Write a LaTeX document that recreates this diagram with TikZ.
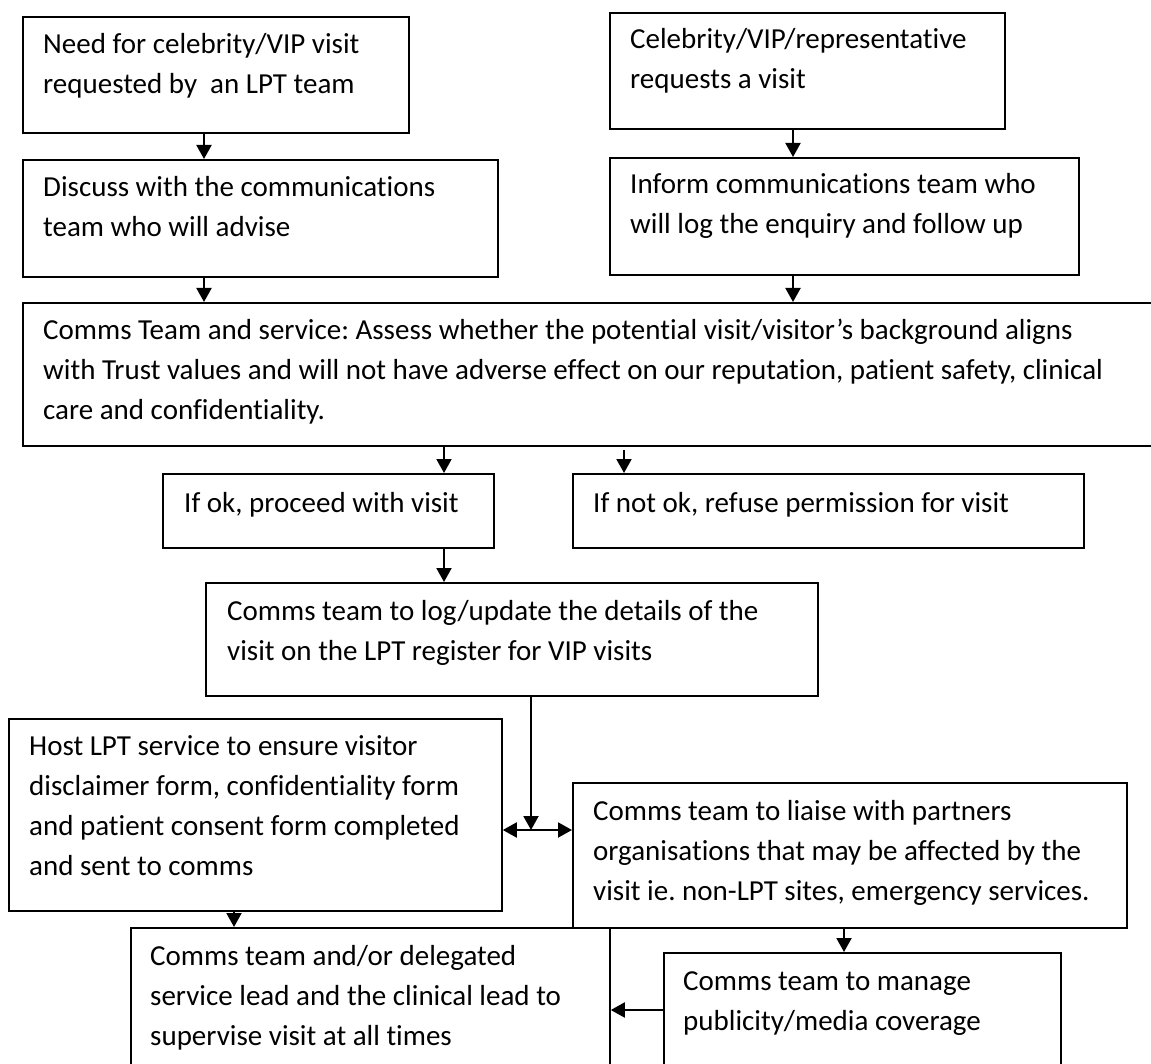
\documentclass[tikz,border=0pt]{standalone}
\usepackage{fontspec}
\setmainfont{Carlito}[Ligatures={NoCommon}]
\usetikzlibrary{arrows.meta}
\frenchspacing
\tikzset{
  box/.style={draw=black, line width=1.8pt, rectangle, inner sep=0pt, anchor=north west},
  txt/.style={inner sep=0pt, anchor=base west, font=\fontsize{29}{40}\selectfont},
  arr/.style={line width=2pt, -{Triangle[length=14pt,width=15pt]}},
  dblarr/.style={line width=2pt, {Triangle[length=14pt,width=15pt]}-{Triangle[length=14pt,width=15pt]}}
}
\newcommand{\lines}[1]{\begin{tabular}[t]{@{}l@{}}#1\end{tabular}}
\begin{document}
\begin{tikzpicture}[x=1pt,y=-1pt]
\useasboundingbox[fill=white] (0,0) rectangle (1151,1064);
% boxes
\node[box, minimum width=386pt, minimum height=116pt] (b1) at (22,16) {};
\node[box, minimum width=475pt, minimum height=117pt] (b2) at (22,159) {};
\node[box, minimum width=395pt, minimum height=116pt] (b3) at (609,12) {};
\node[box, minimum width=469pt, minimum height=117pt] (b4) at (609,157) {};
\node[box, minimum width=1143pt, minimum height=143pt] (b5) at (22,302) {};
\node[box, minimum width=331pt, minimum height=74pt] (b6) at (162,473) {};
\node[box, minimum width=511pt, minimum height=74pt] (b7) at (572,473) {};
\node[box, minimum width=612pt, minimum height=113pt] (b8) at (205,582) {};
\node[box, minimum width=493pt, minimum height=192pt] (b9) at (8,718) {};
\node[box, minimum width=554pt, minimum height=145pt] (b10) at (572,782) {};
\node[box, minimum width=479pt, minimum height=148pt] (b11) at (130,927) {};
\node[box, minimum width=397pt, minimum height=123pt] (b12) at (663,952) {};
% texts
\node[txt] (t1) at (43,54) {\lines{Need for celebrity/VIP visit\\requested by\ \ an LPT team}};
\node[txt] (t2) at (43,197) {\lines{Discuss with the communications\\team who will advise}};
\node[txt] (t3) at (630,49) {\lines{Celebrity/VIP/representative\\requests a visit}};
\node[txt] (t4) at (630,194) {\lines{Inform communications team who\\will log the enquiry and follow up}};
\node[txt] (t5) at (43,340) {\lines{Comms Team and service: Assess whether the potential visit/visitor’s background aligns\\with Trust values and will not have adverse effect on our reputation, patient safety, clinical\\care and confidentiality.}};
\node[txt] (t6) at (184,512) {If ok, proceed with visit};
\node[txt] (t7) at (593,512) {If not ok, refuse permission for visit};
\node[txt] (t8) at (227,620) {\lines{Comms team to log/update the details of the\\visit on the LPT register for VIP visits}};
\node[txt] (t9) at (29,755) {\lines{Host LPT service to ensure visitor\\disclaimer form, confidentiality form\\and patient consent form completed\\and sent to comms}};
\node[txt] (t10) at (593,820) {\lines{Comms team to liaise with partners\\organisations that may be affected by the\\visit ie. non-LPT sites, emergency services.}};
\node[txt] (t11) at (150,965) {\lines{Comms team and/or delegated\\service lead and the clinical lead to\\supervise visit at all times}};
\node[txt] (t12) at (683,990) {\lines{Comms team to manage\\publicity/media coverage}};
% helper coordinates
\coordinate (xl) at (204,0);
\coordinate (xr) at (793,0);
\coordinate (xok) at (444,0);
\coordinate (nostart) at (624,450);
\coordinate (xd) at (531,0);
\coordinate (join) at (531,830);
\coordinate (xh) at (234,0);
\coordinate (xp) at (844,0);
\coordinate (ym) at (0,1010);
% connectors
\draw[arr] (b1.south -| xl) -- (b2.north -| xl);
\draw[arr] (b2.south -| xl) -- (b5.north -| xl);
\draw[arr] (b3.south -| xr) -- (b4.north -| xr);
\draw[arr] (b4.south -| xr) -- (b5.north -| xr);
\draw[arr] (b5.south -| xok) -- (b6.north -| xok);
\draw[arr] (nostart) -- (b7.north -| nostart);
\draw[arr] (b6.south -| xok) -- (b8.north -| xok);
\draw[arr] (b8.south -| xd) -- (join);
\draw[dblarr] (b9.east |- join) -- (b10.west |- join);
\draw[arr] (b9.south -| xh) -- (b11.north -| xh);
\draw[arr] (b10.south -| xp) -- (b12.north -| xp);
\draw[arr] (b12.west |- ym) -- (b11.east |- ym);
\end{tikzpicture}
\end{document}
